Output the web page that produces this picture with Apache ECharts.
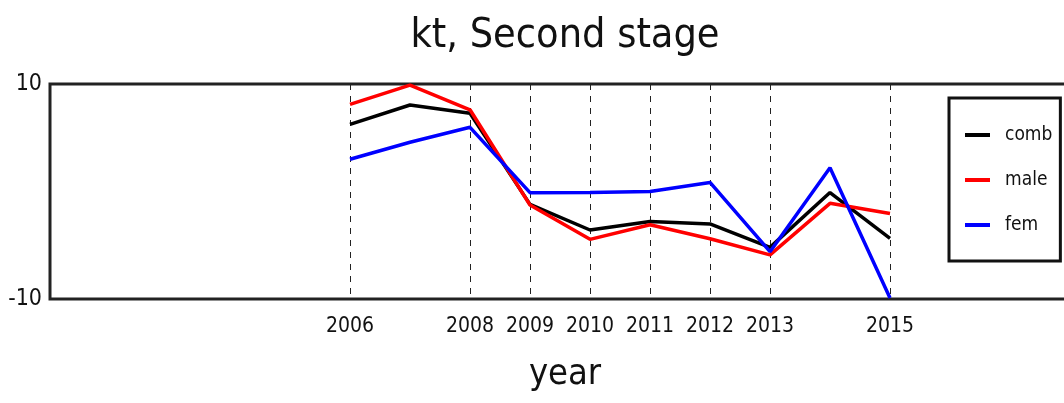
<!DOCTYPE html>
<html>
<head>
<meta charset="utf-8">
<script src="https://cdn.jsdelivr.net/npm/echarts@6/dist/echarts.min.js"></script>
<style>
html,body{margin:0;padding:0;background:#fff;}
#chart{width:1064px;height:403px;}
</style>
</head>
<body>
<div id="chart"></div>
<script>
var years = [2006, 2007, 2008, 2009, 2010, 2011, 2012, 2013, 2014, 2015];
var comb = [6.25, 8.05, 7.27, -1.2, -3.58, -2.8, -3.02, -5.2, -0.1, -4.36];
var male = [8.1, 9.9, 7.6, -1.26, -4.45, -3.1, -4.4, -5.9, -1.1, -2.05];
var fem = [3.0, 4.58, 5.97, -0.11, -0.1, 0.0, 0.84, -5.6, 2.2, -9.9];
var tickYears = [2006, 2008, 2009, 2010, 2011, 2012, 2013, 2015];
var yTicks = [-10, 10];

var narrow = "'DejaVu Sans Condensed', 'Liberation Sans Narrow', sans-serif";

function pairs(vals) {
  return years.map(function (y, i) { return [y, vals[i]]; });
}

var chart = echarts.init(document.getElementById('chart'), null, {renderer: 'canvas'});
chart.setOption({
  animation: false,
  backgroundColor: '#ffffff',
  title: [{
    text: 'kt, Second stage',
    left: 560, top: 11, textAlign: 'center',
    textStyle: {fontFamily: narrow, fontSize: 41, fontWeight: 'normal', color: '#111'}
  }, {
    text: 'year',
    left: 560, top: 352, textAlign: 'center',
    textStyle: {fontFamily: narrow, fontSize: 36, fontWeight: 'normal', color: '#111'}
  }],
  grid: {
    left: 50, top: 84, right: -6, bottom: 104,
    show: true, borderColor: '#222', borderWidth: 3,
    containLabel: false, outerBoundsMode: 'none'
  },
  legend: {
    orient: 'vertical',
    left: 949, top: 98,
    padding: [26, 8, 25, 16],
    borderColor: '#111', borderWidth: 3,
    icon: 'rect',
    itemWidth: 25, itemHeight: 4, itemGap: 23,
    textStyle: {fontFamily: narrow, fontSize: 19, lineHeight: 22, color: '#111', padding: [0, 0, 0, 10]},
    data: ['comb', 'male', 'fem']
  },
  xAxis: {
    type: 'value', min: 2001, max: 2018,
    axisLine: {show: false},
    axisTick: {show: false, customValues: tickYears},
    axisLabel: {
      customValues: tickYears,
      fontFamily: narrow, fontSize: 21, color: '#111', margin: 17,
      formatter: function (v) { return String(v); }
    },
    splitLine: {show: true, lineStyle: {color: '#222', type: [6, 6], width: 1}}
  },
  yAxis: {
    type: 'value', min: -10, max: 10, interval: 20,
    axisLine: {show: false},
    axisTick: {show: false},
    axisLabel: {fontFamily: narrow, fontSize: 23, color: '#111', margin: 8,
      customValues: yTicks},
    splitLine: {show: false}
  },
  series: [
    {name: 'comb', type: 'line', data: pairs(comb), showSymbol: false, symbol: 'none',
      lineStyle: {color: '#000', width: 3.5}, itemStyle: {color: '#000'}, z: 3},
    {name: 'male', type: 'line', data: pairs(male), showSymbol: false, symbol: 'none',
      lineStyle: {color: '#ff0000', width: 3.5}, itemStyle: {color: '#ff0000'}, z: 4},
    {name: 'fem', type: 'line', data: pairs(fem), showSymbol: false, symbol: 'none',
      lineStyle: {color: '#0000ff', width: 3.5}, itemStyle: {color: '#0000ff'}, z: 5}
  ]
});
</script>
</body>
</html>
